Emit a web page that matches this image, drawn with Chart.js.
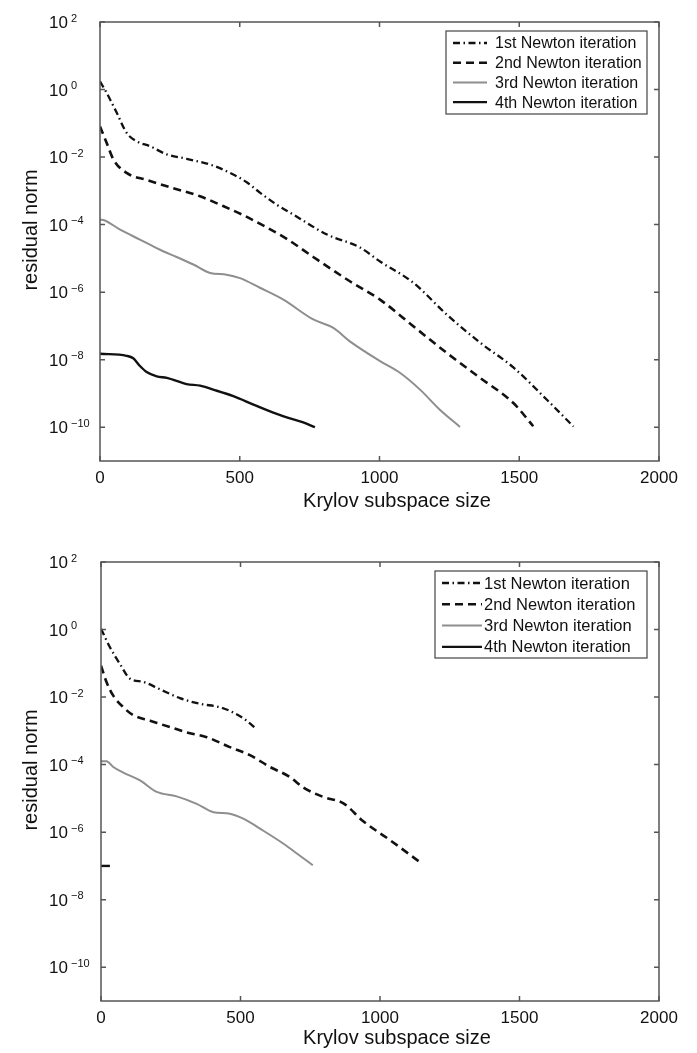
<!DOCTYPE html>
<html>
<head>
<meta charset="utf-8">
<script src="https://cdn.jsdelivr.net/npm/chart.js@4.4.0/dist/chart.umd.min.js"></script>
<style>
  html, body { margin: 0; padding: 0; background: #fff; }
  body { width: 697px; height: 1053px; position: relative; overflow: hidden; }
  .panel { position: absolute; left: 0; width: 697px; height: 526px; }
</style>
</head>
<body>
<div class="panel" style="top:0"><canvas id="topChart" width="697" height="526"></canvas></div>
<div class="panel" style="top:527px"><canvas id="bottomChart" width="697" height="526"></canvas></div>
<script>
const seriesLabels = ['1st Newton iteration', '2nd Newton iteration', '3rd Newton iteration', '4th Newton iteration'];
const xTicks = [0, 500, 1000, 1500, 2000];
const yTickExponents = [2, 0, -2, -4, -6, -8, -10];

// top panel
const top1X = [0, 24, 60, 95, 131, 179, 239, 310, 405, 465, 525, 572, 632, 691, 812, 930, 1002, 1121, 1240, 1360, 1479, 1598, 1694];
const top1Y = [1.74, 0.79, 0.204, 0.0525, 0.0295, 0.0209, 0.012, 0.0089, 0.0056, 0.0034, 0.0018, 8.9e-4, 3.9e-4, 2.0e-4, 5.1e-5, 2.1e-5, 8.1e-6, 1.9e-6, 2.2e-7, 3.2e-8, 5.9e-9, 6.6e-10, 1.05e-10];
const top2X = [0, 24, 48, 95, 167, 262, 358, 429, 513, 596, 668, 763, 894, 1002, 1121, 1240, 1360, 1479, 1550];
const top2Y = [8.1e-2, 2.6e-2, 8.5e-3, 3.4e-3, 2.1e-3, 1.2e-3, 6.9e-4, 3.9e-4, 1.9e-4, 8.3e-5, 3.8e-5, 1.1e-5, 2.1e-6, 6.0e-7, 9.8e-8, 1.6e-8, 2.9e-9, 5.2e-10, 1.07e-10];
const top3X = [0, 15, 72, 143, 215, 274, 334, 394, 453, 501, 572, 656, 763, 835, 894, 1002, 1073, 1145, 1216, 1288];
const top3Y = [1.4e-4, 1.35e-4, 7.1e-5, 3.6e-5, 1.8e-5, 1.1e-5, 6.6e-6, 3.7e-6, 3.3e-6, 2.6e-6, 1.35e-6, 6.0e-7, 1.55e-7, 8.7e-8, 3.5e-8, 9.1e-9, 4.1e-9, 1.3e-9, 3.3e-10, 1.02e-10];
const top4X = [0, 95, 119, 143, 167, 203, 239, 310, 358, 405, 477, 549, 620, 692, 727, 769];
const top4Y = [1.5e-8, 1.3e-8, 1.1e-8, 6.5e-9, 4.3e-9, 3.2e-9, 2.9e-9, 1.9e-9, 1.7e-9, 1.3e-9, 8.3e-10, 4.7e-10, 2.7e-10, 1.7e-10, 1.4e-10, 1.0e-10];

// bottom panel
const bot1X = [0, 32, 68, 104, 152, 211, 283, 355, 427, 474, 522, 558];
const bot1Y = [1.05, 0.30, 0.095, 0.035, 0.028, 0.017, 0.0093, 0.0063, 0.005, 0.0035, 0.002, 0.0011];
const bot2X = [0, 20, 44, 80, 116, 176, 259, 319, 379, 462, 534, 606, 677, 725, 797, 869, 940, 1036, 1143];
const bot2Y = [8.5e-2, 2.75e-2, 1.1e-2, 5.0e-3, 2.9e-3, 2.0e-3, 1.2e-3, 8.5e-4, 6.5e-4, 3.3e-4, 1.9e-4, 8.5e-5, 4.3e-5, 2.1e-5, 1.1e-5, 7.1e-6, 2.1e-6, 5.8e-7, 1.3e-7];
const bot3X = [0, 20, 44, 80, 140, 200, 271, 343, 403, 462, 510, 582, 653, 713, 759];
const bot3Y = [1.26e-4, 1.26e-4, 8.5e-5, 5.8e-5, 3.4e-5, 1.55e-5, 1.15e-5, 6.9e-6, 3.9e-6, 3.5e-6, 2.5e-6, 1.1e-6, 4.6e-7, 2.0e-7, 1.05e-7];
const bot4X = [0, 32];
const bot4Y = [1.0e-7, 1.0e-7];

const FONT = "'Liberation Sans', Arial, 'DejaVu Sans', sans-serif";

function toPoints(xs, ys) {
    return xs.map((x, i) => ({ x: x, y: ys[i] }));
}

// line styles per Newton iteration
const lineStyles = [
    { borderColor: '#111', borderWidth: 2.3, borderDash: [7, 3.5, 1.5, 3.5] },
    { borderColor: '#111', borderWidth: 2.6, borderDash: [8, 5] },
    { borderColor: '#8e8e8e', borderWidth: 2, borderDash: [] },
    { borderColor: '#111', borderWidth: 2.4, borderDash: [] }
];

// box, inward ticks, y labels with exponents, legend and axis titles (MATLAB look)
const matlabFrame = {
    id: 'matlabFrame',
    afterDraw(chart, args, opts) {
        const { ctx, chartArea: a, scales } = chart;
        ctx.save();
        ctx.strokeStyle = '#555';
        ctx.lineWidth = 1.5;
        ctx.setLineDash([]);
        ctx.strokeRect(a.left, a.top, a.right - a.left, a.bottom - a.top);

        const tl = 5;
        ctx.beginPath();
        scales.x.ticks.forEach(t => {
            const px = scales.x.getPixelForValue(t.value);
            ctx.moveTo(px, a.bottom); ctx.lineTo(px, a.bottom - tl);
            ctx.moveTo(px, a.top); ctx.lineTo(px, a.top + tl);
        });
        scales.y.ticks.forEach(t => {
            const py = scales.y.getPixelForValue(t.value);
            ctx.moveTo(a.left, py); ctx.lineTo(a.left + tl, py);
            ctx.moveTo(a.right, py); ctx.lineTo(a.right - tl, py);
        });
        ctx.stroke();

        // y tick labels: 10 with raised exponent
        ctx.fillStyle = '#111';
        ctx.textBaseline = 'alphabetic';
        scales.y.ticks.forEach(t => {
            const py = scales.y.getPixelForValue(t.value);
            const e = Math.round(Math.log10(t.value));
            ctx.font = '17px ' + FONT;
            ctx.textAlign = 'right';
            ctx.fillText('10', 68, py + 6);
            ctx.font = '11px ' + FONT;
            ctx.textAlign = 'left';
            ctx.fillText(String(e).replace('-', '\u2212'), 71, py - 0.5);
        });

        // legend
        const lg = opts.legend;
        ctx.fillStyle = '#fff';
        ctx.fillRect(lg.left, lg.top, lg.width, lg.height);
        ctx.strokeStyle = '#444';
        ctx.lineWidth = 1.2;
        ctx.strokeRect(lg.left, lg.top, lg.width, lg.height);
        ctx.font = lg.fontSize + 'px ' + FONT;
        ctx.textBaseline = 'middle';
        ctx.textAlign = 'left';
        chart.data.datasets.forEach((ds, i) => {
            const y = lg.firstRow + i * lg.rowGap;
            ctx.strokeStyle = ds.borderColor;
            ctx.lineWidth = ds.borderWidth;
            ctx.setLineDash(ds.borderDash || []);
            ctx.beginPath();
            ctx.moveTo(lg.lineX0, y);
            ctx.lineTo(lg.lineX1, y);
            ctx.stroke();
            ctx.setLineDash([]);
            ctx.fillStyle = '#111';
            ctx.fillText(ds.label, lg.textX, y + 1);
        });

        // axis titles
        ctx.fillStyle = '#111';
        ctx.font = '20px ' + FONT;
        ctx.textAlign = 'center';
        ctx.textBaseline = 'middle';
        ctx.fillText(opts.xTitle, opts.xTitleX, opts.xTitleY);
        ctx.translate(opts.yTitleX, opts.yTitleY);
        ctx.rotate(-Math.PI / 2);
        ctx.fillText(opts.yTitle, 0, 0);
        ctx.restore();
    }
};

function makeChart(canvasId, xs, ys, frame) {
    const datasets = xs.map((xArr, i) => Object.assign({
        label: seriesLabels[i],
        data: toPoints(xArr, ys[i]),
        pointRadius: 0,
        fill: false,
        cubicInterpolationMode: 'monotone'
    }, lineStyles[i]));

    return new Chart(document.getElementById(canvasId), {
        type: 'line',
        data: { datasets: datasets },
        options: {
            responsive: false,
            animation: false,
            events: [],
            layout: { padding: { top: frame.padTop, right: 38, bottom: 0, left: 0 } },
            scales: {
                x: {
                    type: 'linear',
                    min: 0,
                    max: 2000,
                    afterBuildTicks: s => { s.ticks = xTicks.map(v => ({ value: v })); },
                    afterFit: s => { s.height = frame.xHeight; },
                    grid: { display: false, drawTicks: false },
                    border: { display: false },
                    ticks: {
                        autoSkip: false, maxRotation: 0, padding: 7, color: '#111',
                        font: { family: FONT, size: 17 },
                        callback: v => String(v)
                    }
                },
                y: {
                    type: 'logarithmic',
                    min: 1e-11,
                    max: 1e2,
                    afterBuildTicks: s => { s.ticks = yTickExponents.map(e => ({ value: Math.pow(10, e) })); },
                    afterFit: s => { s.width = frame.yWidth; },
                    grid: { display: false, drawTicks: false },
                    border: { display: false },
                    ticks: { display: false }
                }
            },
            plugins: {
                legend: { display: false },
                tooltip: { enabled: false },
                matlabFrame: frame.overlay
            }
        },
        plugins: [matlabFrame]
    });
}

makeChart('topChart', [top1X, top2X, top3X, top4X], [top1Y, top2Y, top3Y, top4Y], {
    padTop: 22, xHeight: 65, yWidth: 100,
    overlay: {
        xTitle: 'Krylov subspace size', xTitleX: 397, xTitleY: 501,
        yTitle: 'residual norm', yTitleX: 31, yTitleY: 230,
        legend: { left: 446, top: 31, width: 201, height: 83, firstRow: 43, rowGap: 19.7, lineX0: 453, lineX1: 487, textX: 495, fontSize: 16 }
    }
});

makeChart('bottomChart', [bot1X, bot2X, bot3X, bot4X], [bot1Y, bot2Y, bot3Y, bot4Y], {
    padTop: 35, xHeight: 52, yWidth: 101,
    overlay: {
        xTitle: 'Krylov subspace size', xTitleX: 397, xTitleY: 511,
        yTitle: 'residual norm', yTitleX: 31, yTitleY: 243,
        legend: { left: 435, top: 44, width: 212, height: 87, firstRow: 56, rowGap: 21.3, lineX0: 442, lineX1: 482, textX: 484, fontSize: 16.5 }
    }
});
</script>
</body>
</html>
